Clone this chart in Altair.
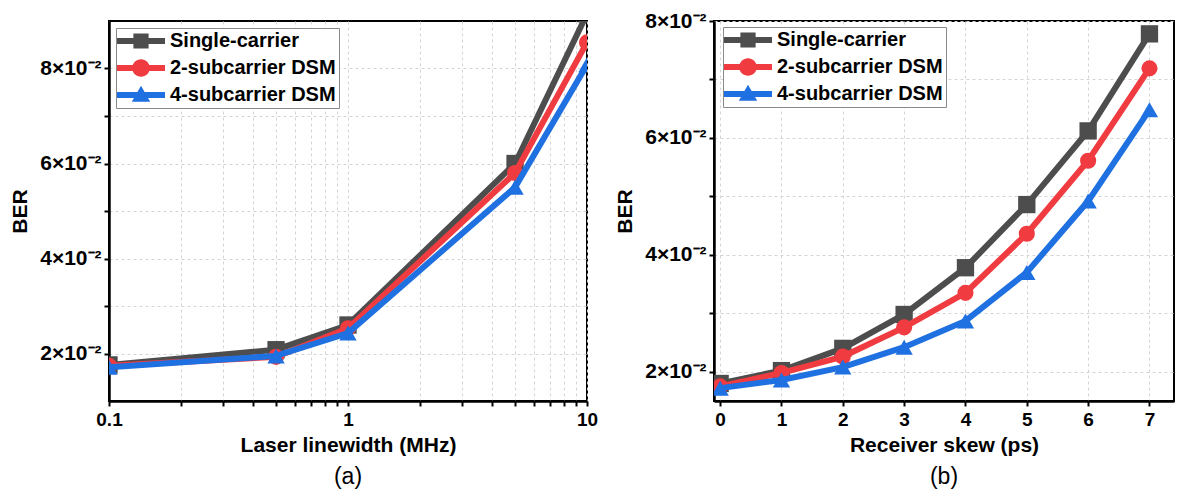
import altair as alt
import pandas as pd

FONT = "Liberation Sans"

series_names = ["Single-carrier", "2-subcarrier DSM", "4-subcarrier DSM"]
series_colors = ["#4d4d4d", "#f03c40", "#1f70e0"]
point_shapes = ["square", "circle", "triangle-up"]
point_sizes = [300, 260, 300]

# Panel (a): laser linewidth (MHz)
x_a = [0.1, 0.5, 1, 5, 10]
sc_a = [0.0176, 0.0208, 0.0260, 0.0600, 0.0915]
d2_a = [0.0174, 0.0193, 0.0253, 0.0580, 0.0855]
d4_a = [0.0171, 0.0195, 0.0243, 0.0550, 0.0808]

# Panel (b): receiver skew (ps)
x_b = [0, 1, 2, 3, 4, 5, 6, 7]
sc_b = [0.0180, 0.0202, 0.0240, 0.0298, 0.0378, 0.0486, 0.0612, 0.0778]
d2_b = [0.0175, 0.0198, 0.0226, 0.0276, 0.0335, 0.0436, 0.0561, 0.0719]
d4_b = [0.0172, 0.0186, 0.0208, 0.0242, 0.0287, 0.0370, 0.0492, 0.0648]

xticks_a = [0.1, 0.2, 0.3, 0.4, 0.5, 0.6, 0.7, 0.8, 0.9, 1, 2, 3, 4, 5, 6, 7, 8, 9, 10]
yticks_a = [0.02, 0.03, 0.04, 0.05, 0.06, 0.07, 0.08]
xticks_b = [0, 1, 2, 3, 4, 5, 6, 7]
yticks_b = [0.02, 0.03, 0.04, 0.05, 0.06, 0.07, 0.08]

# legend symbols: line through marker (unit = half the nominal symbol width)
LINE = "M-3,-0.38 L3,-0.38 L3,0.38 L-3,0.38 Z "
legend_paths = [
    LINE + "M-0.95,-0.95 L0.95,-0.95 L0.95,0.95 L-0.95,0.95 Z",
    LINE + "M-1.1,0 A1.1,1.1 0 1,1 1.1,0 A1.1,1.1 0 1,1 -1.1,0 Z",
    LINE + "M0,-1.15 L1.15,0.85 L-1.15,0.85 Z",
]

ylabel_expr = "(round(datum.value*100) % 2 == 0) ? round(datum.value*100) + '×10⁻²' : ''"


def make_df(xs, ys_list):
    rows = []
    for name, ys in zip(series_names, ys_list):
        for xv, yv in zip(xs, ys):
            rows.append({"x": xv, "y": yv, "series": name})
    return pd.DataFrame(rows)


def panel(df, x_enc, y_enc, legend_x, legend_y, caption, width, height):
    base = alt.Chart(df)
    layers = []
    for name, color, shp, sz in zip(series_names, series_colors, point_shapes, point_sizes):
        sub = base.transform_filter(alt.datum.series == name)
        layers.append(
            sub.mark_line(color=color, strokeWidth=6, clip=True).encode(x=x_enc, y=y_enc)
        )
        layers.append(
            sub.mark_point(shape=shp, filled=True, opacity=1, size=sz, color=color,
                           clip=True).encode(x=x_enc, y=y_enc)
        )
    leg = alt.Legend(
        title=None, orient="none", legendX=legend_x, legendY=legend_y,
        labelFont=FONT, labelFontSize=20, labelFontWeight="bold", labelColor="black",
        symbolSize=256, symbolStrokeWidth=0, symbolOffset=12, labelOffset=19,
        strokeColor="#8a8a8a", fillColor="white", padding=3, rowPadding=7,
        labelLimit=400,
    )
    legend_layer = base.transform_filter("false").mark_point(filled=True, opacity=1).encode(
        x=x_enc, y=y_enc,
        color=alt.Color("series:N", scale=alt.Scale(domain=series_names, range=series_colors),
                        legend=leg),
        shape=alt.Shape("series:N", scale=alt.Scale(domain=series_names, range=legend_paths),
                        legend=leg),
    )
    layers.append(legend_layer)
    return alt.layer(*layers).properties(
        width=width, height=height,
        title=alt.TitleParams(caption, orient="bottom", font=FONT, fontSize=23,
                              fontWeight="normal", color="black", offset=11, frame="group"),
    )


common_axis = dict(
    labelFont=FONT, labelFontWeight="bold", labelColor="black",
    titleFont=FONT, titleFontSize=21, titleFontWeight="bold", titleColor="black",
    domainColor="black", domainWidth=2.5, tickColor="black", tickWidth=2, tickSize=5,
    gridColor="#d4d4d4", gridDash=[3, 3], gridWidth=1, labelFlush=False,
)

df_a = make_df(x_a, [sc_a, d2_a, d4_a])
xa = alt.X("x:Q", scale=alt.Scale(type="log", domain=[0.1, 10], nice=False),
           axis=alt.Axis(title="Laser linewidth (MHz)", values=xticks_a, labelFontSize=19,
                         labelExpr="datum.value == 0.1 ? '0.1' : (datum.value == 1 ? '1' : (datum.value == 10 ? '10' : ''))",
                         labelPadding=4, titlePadding=5, **common_axis))
ya = alt.Y("y:Q", scale=alt.Scale(domain=[0.01, 0.09], nice=False, zero=False),
           axis=alt.Axis(title="BER", values=yticks_a, labelExpr=ylabel_expr, labelFontSize=21,
                         labelPadding=3, titlePadding=9, **common_axis))

df_b = make_df(x_b, [sc_b, d2_b, d4_b])
xb = alt.X("x:Q", scale=alt.Scale(domain=[-0.1, 7.4], nice=False, zero=False),
           axis=alt.Axis(title="Receiver skew (ps)", values=xticks_b, format="d", labelFontSize=19,
                         labelPadding=4, titlePadding=5, **common_axis))
yb = alt.Y("y:Q", scale=alt.Scale(domain=[0.015, 0.08], nice=False, zero=False),
           axis=alt.Axis(title="BER", values=yticks_b, labelExpr=ylabel_expr, labelFontSize=21,
                         labelPadding=3, titlePadding=9, **common_axis))

left = panel(df_a, xa, ya, 7, 7, "(a)", 478, 380)
right = panel(df_b, xb, yb, 9, 6, "(b)", 460, 380)

chart = alt.hconcat(left, right, spacing=14).resolve_scale(
    color="independent", shape="independent", x="independent", y="independent"
).configure(
    padding={"left": 0, "top": 1, "right": 0, "bottom": 0},
    background="white",
).configure_view(stroke="black", strokeWidth=2)

chart.save("out.html", embed_options={"renderer": "svg", "actions": False})
